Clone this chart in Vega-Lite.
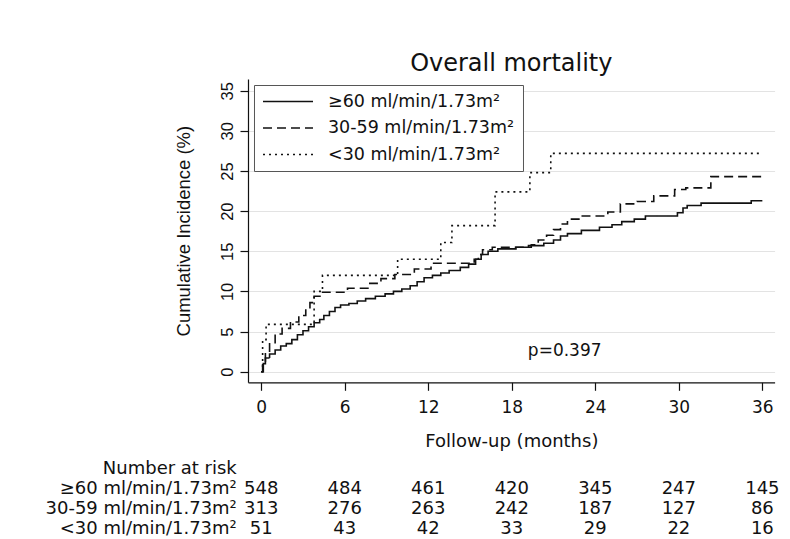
{
  "$schema": "https://vega.github.io/schema/vega-lite/v6.json",
  "background": "white",
  "padding": {"left": 44, "top": 51, "right": 5, "bottom": 0},
  "spacing": 9,
  "config": {"view": {"stroke": null}, "font": "DejaVu Sans"},
  "datasets": {
    "curves": [
      {"g": "≥60 ml/min/1.73m²", "t": 0, "ci": 0},
      {"g": "≥60 ml/min/1.73m²", "t": 0.15, "ci": 1.0},
      {"g": "≥60 ml/min/1.73m²", "t": 0.3, "ci": 1.7},
      {"g": "≥60 ml/min/1.73m²", "t": 0.6, "ci": 2.2},
      {"g": "≥60 ml/min/1.73m²", "t": 1.0, "ci": 2.7},
      {"g": "≥60 ml/min/1.73m²", "t": 1.4, "ci": 3.2},
      {"g": "≥60 ml/min/1.73m²", "t": 1.8, "ci": 3.5},
      {"g": "≥60 ml/min/1.73m²", "t": 2.2, "ci": 4.0},
      {"g": "≥60 ml/min/1.73m²", "t": 2.6, "ci": 4.6},
      {"g": "≥60 ml/min/1.73m²", "t": 3.0, "ci": 5.1},
      {"g": "≥60 ml/min/1.73m²", "t": 3.4, "ci": 5.6},
      {"g": "≥60 ml/min/1.73m²", "t": 3.8, "ci": 6.1},
      {"g": "≥60 ml/min/1.73m²", "t": 4.2, "ci": 6.5},
      {"g": "≥60 ml/min/1.73m²", "t": 4.5, "ci": 7.0},
      {"g": "≥60 ml/min/1.73m²", "t": 4.9, "ci": 7.5},
      {"g": "≥60 ml/min/1.73m²", "t": 5.3, "ci": 8.0},
      {"g": "≥60 ml/min/1.73m²", "t": 5.7, "ci": 8.3},
      {"g": "≥60 ml/min/1.73m²", "t": 6.3, "ci": 8.5},
      {"g": "≥60 ml/min/1.73m²", "t": 6.9, "ci": 8.8},
      {"g": "≥60 ml/min/1.73m²", "t": 7.5, "ci": 9.1},
      {"g": "≥60 ml/min/1.73m²", "t": 8.2, "ci": 9.4},
      {"g": "≥60 ml/min/1.73m²", "t": 8.9, "ci": 9.7},
      {"g": "≥60 ml/min/1.73m²", "t": 9.5, "ci": 10.0},
      {"g": "≥60 ml/min/1.73m²", "t": 10.1, "ci": 10.3},
      {"g": "≥60 ml/min/1.73m²", "t": 10.7, "ci": 10.7},
      {"g": "≥60 ml/min/1.73m²", "t": 11.2, "ci": 11.2},
      {"g": "≥60 ml/min/1.73m²", "t": 11.7, "ci": 11.7},
      {"g": "≥60 ml/min/1.73m²", "t": 12.3, "ci": 12.0},
      {"g": "≥60 ml/min/1.73m²", "t": 12.9, "ci": 12.3},
      {"g": "≥60 ml/min/1.73m²", "t": 13.5, "ci": 12.6},
      {"g": "≥60 ml/min/1.73m²", "t": 14.3, "ci": 13.0},
      {"g": "≥60 ml/min/1.73m²", "t": 14.9, "ci": 13.4},
      {"g": "≥60 ml/min/1.73m²", "t": 15.4, "ci": 14.0},
      {"g": "≥60 ml/min/1.73m²", "t": 15.8, "ci": 14.6},
      {"g": "≥60 ml/min/1.73m²", "t": 16.3, "ci": 15.0},
      {"g": "≥60 ml/min/1.73m²", "t": 17.0, "ci": 15.3},
      {"g": "≥60 ml/min/1.73m²", "t": 18.3, "ci": 15.5},
      {"g": "≥60 ml/min/1.73m²", "t": 19.2, "ci": 15.7},
      {"g": "≥60 ml/min/1.73m²", "t": 20.3, "ci": 16.0},
      {"g": "≥60 ml/min/1.73m²", "t": 21.0, "ci": 16.4},
      {"g": "≥60 ml/min/1.73m²", "t": 21.5, "ci": 16.9},
      {"g": "≥60 ml/min/1.73m²", "t": 22.0, "ci": 17.2},
      {"g": "≥60 ml/min/1.73m²", "t": 23.0, "ci": 17.6},
      {"g": "≥60 ml/min/1.73m²", "t": 24.3, "ci": 18.0},
      {"g": "≥60 ml/min/1.73m²", "t": 25.2, "ci": 18.3},
      {"g": "≥60 ml/min/1.73m²", "t": 25.9, "ci": 18.7},
      {"g": "≥60 ml/min/1.73m²", "t": 26.8, "ci": 19.0},
      {"g": "≥60 ml/min/1.73m²", "t": 27.6, "ci": 19.4},
      {"g": "≥60 ml/min/1.73m²", "t": 29.9, "ci": 19.8},
      {"g": "≥60 ml/min/1.73m²", "t": 30.3, "ci": 20.4},
      {"g": "≥60 ml/min/1.73m²", "t": 30.6, "ci": 20.7},
      {"g": "≥60 ml/min/1.73m²", "t": 31.6, "ci": 21.0},
      {"g": "≥60 ml/min/1.73m²", "t": 35.2, "ci": 21.3},
      {"g": "≥60 ml/min/1.73m²", "t": 36, "ci": 21.3},
      {"g": "30-59 ml/min/1.73m²", "t": 0, "ci": 0},
      {"g": "30-59 ml/min/1.73m²", "t": 0.1, "ci": 1.3},
      {"g": "30-59 ml/min/1.73m²", "t": 0.3, "ci": 2.4},
      {"g": "30-59 ml/min/1.73m²", "t": 0.6, "ci": 3.6},
      {"g": "30-59 ml/min/1.73m²", "t": 1.0, "ci": 4.7},
      {"g": "30-59 ml/min/1.73m²", "t": 1.5, "ci": 5.4},
      {"g": "30-59 ml/min/1.73m²", "t": 2.1, "ci": 6.2},
      {"g": "30-59 ml/min/1.73m²", "t": 2.7, "ci": 7.0},
      {"g": "30-59 ml/min/1.73m²", "t": 3.2, "ci": 7.8},
      {"g": "30-59 ml/min/1.73m²", "t": 3.5, "ci": 8.6},
      {"g": "30-59 ml/min/1.73m²", "t": 3.8, "ci": 9.4},
      {"g": "30-59 ml/min/1.73m²", "t": 4.3, "ci": 9.9},
      {"g": "30-59 ml/min/1.73m²", "t": 6.2, "ci": 10.4},
      {"g": "30-59 ml/min/1.73m²", "t": 7.8, "ci": 11.0},
      {"g": "30-59 ml/min/1.73m²", "t": 8.6, "ci": 11.6},
      {"g": "30-59 ml/min/1.73m²", "t": 9.6, "ci": 12.1},
      {"g": "30-59 ml/min/1.73m²", "t": 11.0, "ci": 12.8},
      {"g": "30-59 ml/min/1.73m²", "t": 12.2, "ci": 13.5},
      {"g": "30-59 ml/min/1.73m²", "t": 15.3, "ci": 14.0},
      {"g": "30-59 ml/min/1.73m²", "t": 15.6, "ci": 14.6},
      {"g": "30-59 ml/min/1.73m²", "t": 15.9, "ci": 15.2},
      {"g": "30-59 ml/min/1.73m²", "t": 16.6, "ci": 15.5},
      {"g": "30-59 ml/min/1.73m²", "t": 19.4, "ci": 15.8},
      {"g": "30-59 ml/min/1.73m²", "t": 19.9, "ci": 16.4},
      {"g": "30-59 ml/min/1.73m²", "t": 20.5, "ci": 17.0},
      {"g": "30-59 ml/min/1.73m²", "t": 21.0, "ci": 17.7},
      {"g": "30-59 ml/min/1.73m²", "t": 21.5, "ci": 18.4},
      {"g": "30-59 ml/min/1.73m²", "t": 22.0, "ci": 19.0},
      {"g": "30-59 ml/min/1.73m²", "t": 23.0, "ci": 19.4},
      {"g": "30-59 ml/min/1.73m²", "t": 24.9, "ci": 19.9},
      {"g": "30-59 ml/min/1.73m²", "t": 25.8, "ci": 20.9},
      {"g": "30-59 ml/min/1.73m²", "t": 27.0, "ci": 21.2},
      {"g": "30-59 ml/min/1.73m²", "t": 28.2, "ci": 21.9},
      {"g": "30-59 ml/min/1.73m²", "t": 29.7, "ci": 22.7},
      {"g": "30-59 ml/min/1.73m²", "t": 30.5, "ci": 22.9},
      {"g": "30-59 ml/min/1.73m²", "t": 32.3, "ci": 24.3},
      {"g": "30-59 ml/min/1.73m²", "t": 36, "ci": 24.3},
      {"g": "<30 ml/min/1.73m²", "t": 0, "ci": 0},
      {"g": "<30 ml/min/1.73m²", "t": 0.1, "ci": 4.0},
      {"g": "<30 ml/min/1.73m²", "t": 0.35, "ci": 5.9},
      {"g": "<30 ml/min/1.73m²", "t": 3.8, "ci": 10.0},
      {"g": "<30 ml/min/1.73m²", "t": 4.4, "ci": 12.0},
      {"g": "<30 ml/min/1.73m²", "t": 9.8, "ci": 14.0},
      {"g": "<30 ml/min/1.73m²", "t": 12.9, "ci": 16.1},
      {"g": "<30 ml/min/1.73m²", "t": 13.7, "ci": 18.2},
      {"g": "<30 ml/min/1.73m²", "t": 16.8, "ci": 22.4},
      {"g": "<30 ml/min/1.73m²", "t": 19.3, "ci": 24.8},
      {"g": "<30 ml/min/1.73m²", "t": 20.8, "ci": 27.2},
      {"g": "<30 ml/min/1.73m²", "t": 36, "ci": 27.2}
    ],
    "pval": [{"t": 21.8, "ci": 2.6, "label": "p=0.397"}],
    "risk": [
      {"g": "≥60 ml/min/1.73m²", "t": 0, "n": 548},
      {"g": "≥60 ml/min/1.73m²", "t": 6, "n": 484},
      {"g": "≥60 ml/min/1.73m²", "t": 12, "n": 461},
      {"g": "≥60 ml/min/1.73m²", "t": 18, "n": 420},
      {"g": "≥60 ml/min/1.73m²", "t": 24, "n": 345},
      {"g": "≥60 ml/min/1.73m²", "t": 30, "n": 247},
      {"g": "≥60 ml/min/1.73m²", "t": 36, "n": 145},
      {"g": "30-59 ml/min/1.73m²", "t": 0, "n": 313},
      {"g": "30-59 ml/min/1.73m²", "t": 6, "n": 276},
      {"g": "30-59 ml/min/1.73m²", "t": 12, "n": 263},
      {"g": "30-59 ml/min/1.73m²", "t": 18, "n": 242},
      {"g": "30-59 ml/min/1.73m²", "t": 24, "n": 187},
      {"g": "30-59 ml/min/1.73m²", "t": 30, "n": 127},
      {"g": "30-59 ml/min/1.73m²", "t": 36, "n": 86},
      {"g": "<30 ml/min/1.73m²", "t": 0, "n": 51},
      {"g": "<30 ml/min/1.73m²", "t": 6, "n": 43},
      {"g": "<30 ml/min/1.73m²", "t": 12, "n": 42},
      {"g": "<30 ml/min/1.73m²", "t": 18, "n": 33},
      {"g": "<30 ml/min/1.73m²", "t": 24, "n": 29},
      {"g": "<30 ml/min/1.73m²", "t": 30, "n": 22},
      {"g": "<30 ml/min/1.73m²", "t": 36, "n": 16}
    ]
  },
  "vconcat": [
    {
      "width": 526.6,
      "height": 303.3,
      "title": {"text": "Overall mortality", "font": "DejaVu Sans", "fontSize": 24, "fontWeight": "normal", "color": "#111", "anchor": "middle", "baseline": "alphabetic", "offset": -15.5},
      "layer": [
        {
          "data": {"name": "curves"},
          "mark": {"type": "line", "interpolate": "step-after", "color": "#111", "strokeWidth": 1.6},
          "encoding": {
            "x": {"field": "t", "type": "quantitative",
              "scale": {"domain": [-0.95, 36.88], "nice": false, "zero": false},
              "axis": {"values": [0, 6, 12, 18, 24, 30, 36], "grid": false, "domainColor": "#111", "domainWidth": 1.2, "tickColor": "#111", "tickWidth": 1.2, "tickSize": 8, "labelFont": "DejaVu Sans", "labelFontSize": 17, "labelColor": "#111", "labelPadding": 9.5, "title": "Follow-up (months)", "titleFont": "DejaVu Sans", "titleFontSize": 18, "titleFontWeight": "normal", "titleColor": "#111", "titlePadding": 17}},
            "y": {"field": "ci", "type": "quantitative",
              "scale": {"domain": [-1.32, 36.46], "nice": false, "zero": false},
              "axis": {"values": [0, 5, 10, 15, 20, 25, 30, 35], "grid": true, "gridColor": "#e3e3e3", "gridWidth": 1.2, "domainColor": "#111", "domainWidth": 1.2, "tickColor": "#111", "tickWidth": 1.2, "tickSize": 8, "labelAngle": -90, "labelFont": "Liberation Sans", "labelFontSize": 16.5, "labelColor": "#111", "labelPadding": 4, "title": "Cumulative Incidence (%)", "titleFont": "Liberation Sans", "titleFontSize": 18.5, "titleFontWeight": "normal", "titleColor": "#111", "titlePadding": 26}},
            "strokeDash": {"field": "g", "type": "nominal",
              "scale": {"domain": ["≥60 ml/min/1.73m²", "30-59 ml/min/1.73m²", "<30 ml/min/1.73m²"], "range": [[1, 0], [9, 5], [2, 4]]},
              "legend": {"orient": "none", "legendX": 6, "legendY": 6, "title": null, "symbolType": "stroke", "symbolSize": 2500, "clipHeight": 17, "symbolStrokeWidth": 1.5, "symbolStrokeColor": "#111", "labelFont": "DejaVu Sans", "labelFontSize": 17.5, "labelColor": "#111", "labelOffset": 14, "labelLimit": 400, "rowPadding": 8.5, "padding": 8, "strokeColor": "#555", "fillColor": "white"}}
          }
        },
        {
          "data": {"name": "pval"},
          "mark": {"type": "text", "font": "DejaVu Sans", "fontSize": 17, "color": "#111"},
          "encoding": {
            "x": {"field": "t", "type": "quantitative"},
            "y": {"field": "ci", "type": "quantitative"},
            "text": {"field": "label"}
          }
        }
      ]
    },
    {
      "width": 526.6,
      "height": 60,
      "data": {"name": "risk"},
      "mark": {"type": "text", "font": "DejaVu Sans", "fontSize": 18, "color": "#111", "baseline": "middle", "align": "center"},
      "encoding": {
        "x": {"field": "t", "type": "quantitative", "scale": {"domain": [-0.95, 36.88], "nice": false, "zero": false}, "axis": null},
        "y": {"field": "g", "type": "ordinal",
          "scale": {"type": "point", "domain": ["Number at risk", "≥60 ml/min/1.73m²", "30-59 ml/min/1.73m²", "<30 ml/min/1.73m²"], "padding": 0},
          "axis": {"title": null, "domain": false, "ticks": false, "grid": false, "labelFont": "DejaVu Sans", "labelFontSize": 18, "labelColor": "#111", "labelPadding": 11.7, "labelLimit": 400, "labelBaseline": "middle"}},
        "text": {"field": "n", "type": "quantitative"}
      }
    }
  ]
}
